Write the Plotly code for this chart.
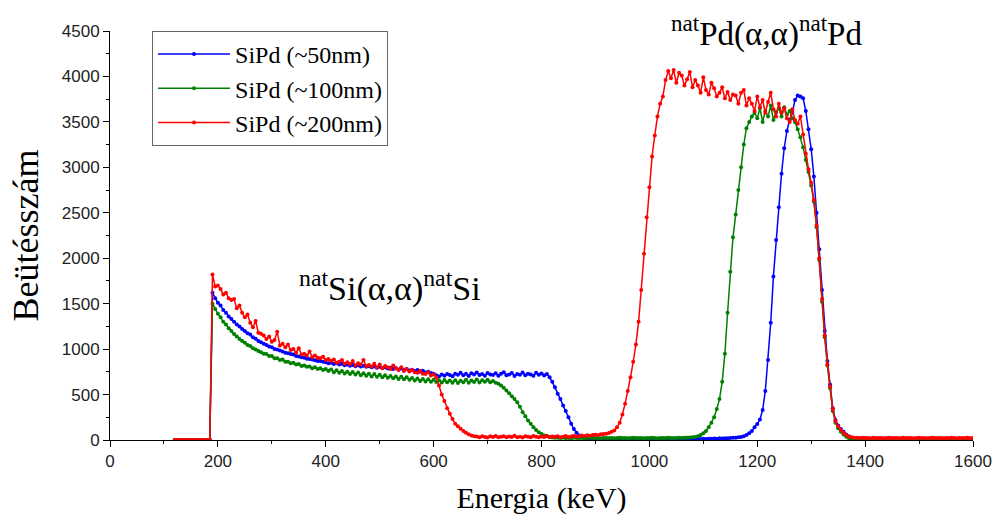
import plotly.graph_objects as go

# Energy channels (keV)
energy = list(range(120, 1605, 5))

# Shared empty channels below the Si edge (120-185 keV)
pre_edge = [0, 0, 0, 0, 0, 0, 0, 0, 0, 0, 0, 0, 0, 0]

# --- SiPd (~50 nm) ---
b_si_front = [1620, 1560, 1510, 1480, 1430, 1400, 1360, 1330, 1300, 1270,
              1250, 1220, 1200, 1175, 1160, 1130, 1115, 1090, 1075, 1060,
              1045, 1030, 1020, 1000, 995, 985, 975, 960, 955, 945,
              940, 925, 920, 910, 905, 895, 890, 885, 878, 870,
              868, 860, 855]
b_si_mid = [845, 850, 835, 845, 830, 838, 822, 832, 818, 826,
            812, 822, 808, 818, 805, 812, 800, 810, 796, 806,
            792, 800, 786, 796, 782, 790, 776, 786, 770, 780,
            766, 774, 760, 770, 752, 762, 744, 752, 738, 730]
b_si_back = [712, 700, 722, 708, 725, 715, 702, 730, 718, 740,
             712, 728, 705, 735, 720, 742, 714, 726, 708, 738,
             722, 716, 734, 706, 728, 745, 712, 722, 738, 704,
             726, 718, 744, 712, 730, 722, 706, 740, 718, 732,
             710, 725]
b_si_edge = [690, 640, 580, 510, 450, 380, 320, 250, 180, 120, 80, 50, 30, 20]
b_gap = [18, 14, 16, 12, 15, 13, 11, 14, 12, 10,
         13, 11, 12, 9, 12, 10, 13, 11, 9, 12,
         10, 12, 9, 11, 13, 10, 12, 9, 11, 10,
         12, 9, 11, 13, 10, 12, 11, 9, 12, 10,
         13, 11, 12, 14, 12, 15, 13, 16, 14, 18,
         17, 20, 19, 22, 24, 26, 30, 34]
b_pd = [40, 55, 75, 100, 140, 175, 225, 330, 540, 880,
        1290, 1800, 2200, 2560, 2930, 3210, 3400, 3520, 3600, 3740,
        3790, 3780, 3760, 3620, 3420, 3200, 2900, 2500, 2100, 1650,
        1200, 870, 610, 350, 220, 160, 120, 90, 60, 38,
        26, 20]
b_tail = [18, 16, 15, 17, 14, 15, 13, 15, 14, 16,
          13, 14, 15, 13, 14, 12, 14, 13, 15, 12,
          13, 14, 12, 13, 15, 12, 14, 13, 12, 14,
          13, 12, 14, 13, 12, 13, 14, 12, 13, 12,
          13, 12, 14, 13]

# --- SiPd (~100 nm) ---
g_si_front = [1500, 1440, 1390, 1350, 1300, 1270, 1230, 1200, 1165, 1140,
              1110, 1090, 1070, 1045, 1035, 1010, 995, 980, 965, 950,
              945, 925, 925, 900, 900, 880, 885, 860, 860, 845,
              850, 830, 835, 815, 820, 805, 810, 790, 800, 780,
              790, 770, 780]
g_si_back = [758, 775, 745, 768, 740, 760, 732, 752, 725, 748,
             720, 742, 712, 735, 708, 728, 700, 725, 695, 718,
             690, 712, 685, 705, 680, 700, 672, 695, 668, 690,
             662, 682, 655, 678, 650, 672, 645, 668, 640, 662,
             638, 658, 632, 660, 635, 655, 630, 658, 628, 652,
             635, 662, 630, 655, 638, 665, 632, 658, 640, 662,
             635, 650, 630]
g_si_edge = [620, 600, 575, 545, 515, 480, 450, 415, 365, 305,
             260, 215, 180, 140, 110, 85, 65, 50, 40, 32]
g_gap = [28, 25, 24, 22, 25, 21, 23, 20, 24, 22,
         21, 23, 20, 22, 24, 21, 23, 22, 20, 24,
         21, 22, 23, 20, 22, 24, 21, 23, 20, 22,
         24, 21, 22, 23, 20, 22, 21, 24, 22, 20,
         23, 21, 22, 24, 21, 23, 22, 25, 23, 26,
         25, 28, 30, 33]
g_pd = [40, 55, 75, 100, 140, 190, 250, 340, 450, 640,
        950, 1400, 1850, 2230, 2480, 2750, 3000, 3250, 3430, 3500,
        3560, 3600, 3540, 3650, 3500, 3620, 3560, 3680, 3520, 3610,
        3650, 3560, 3660, 3580, 3620, 3540, 3500, 3420, 3330, 3220,
        3080, 2950, 2800, 2620, 2340, 1980, 1520, 1130, 820, 570,
        320, 190, 130, 90, 60, 35, 20, 14, 12]
g_tail = [11, 10, 12, 10, 9, 11, 10, 12, 9, 10,
          11, 9, 10, 12, 10, 9, 11, 10, 9, 11,
          10, 12, 9, 10, 11, 10, 9, 11, 10, 12,
          9, 10, 11, 10, 9, 12, 10, 11, 9, 10,
          11, 10, 9, 10]

# --- SiPd (~200 nm) ---
r_si_front = [1820, 1690, 1700, 1660, 1600, 1620, 1560, 1540, 1550, 1450,
              1480, 1400, 1350, 1380, 1290, 1240, 1310, 1180, 1170, 1150,
              1110, 1140, 1080, 1100, 1190, 1040, 1060, 1020, 1050, 990,
              1000, 960, 1010, 940, 950, 930, 975, 910, 930, 905,
              900, 915, 880]
r_si_back = [890, 870, 885, 850, 860, 880, 840, 855, 835, 870,
             820, 845, 830, 880, 815, 825, 810, 840, 800, 830,
             790, 815, 800, 780, 820, 790, 770, 800, 760, 780,
             755, 770, 745, 740, 760, 730, 725, 745, 710, 720]
r_si_edge = [690, 600, 500, 430, 350, 290, 230, 180, 150, 125, 100, 80, 62, 50, 42]
r_gap = [38, 30, 42, 34, 28, 40, 33, 45, 30, 36,
         42, 29, 38, 34, 46, 31, 37, 28, 41, 35,
         30, 44, 36, 29, 39, 33, 47, 31, 38, 35,
         42, 30, 37, 45, 33, 39, 48, 36, 42, 50,
         44, 52, 48, 55, 58, 52, 62, 66]
r_pd_rise = [70, 78, 90, 105, 140, 190, 280, 400, 540, 690,
             860, 1050, 1300, 1650, 2050, 2450, 2780, 3120, 3350, 3560,
             3700, 3780, 3960]
r_pd_top = [4060, 3980, 4070, 3930, 4040, 4010, 3900, 3970, 4050, 3880,
            3960, 3900, 3820, 3990, 3850, 3800, 3930, 3870, 3780, 3820,
            3880, 3760, 3830, 3740, 3800, 3790, 3700, 3820, 3850, 3680,
            3760, 3700, 3620, 3780, 3660, 3740, 3600, 3720, 3820, 3640,
            3560, 3700, 3600, 3650, 3540, 3500, 3640, 3520, 3480, 3560,
            3360]
r_pd_fall = [3150, 2980, 2830, 2640, 2360, 2000, 1550, 1150, 830, 590,
             340, 210, 150, 110, 80, 55, 38, 30, 26]
r_tail = [24, 22, 25, 21, 23, 20, 24, 22, 21, 23,
          20, 22, 24, 21, 23, 22, 20, 24, 21, 22,
          23, 20, 22, 24, 21, 23, 20, 22, 24, 21,
          22, 23, 20, 22, 21, 24, 22, 20, 23, 21,
          22, 24, 21, 22]

counts_50 = pre_edge + b_si_front + b_si_mid + b_si_back + b_si_edge + b_gap + b_pd + b_tail
counts_100 = pre_edge + g_si_front + g_si_back + g_si_edge + g_gap + g_pd + g_tail
counts_200 = (pre_edge + r_si_front + r_si_back + r_si_edge + r_gap
              + r_pd_rise + r_pd_top + r_pd_fall + r_tail)

series_names = ["SiPd (~50nm)", "SiPd (~100nm)", "SiPd (~200nm)"]
series_counts = [counts_50, counts_100, counts_200]
series_colors = ["#0000ff", "#008000", "#ff0000"]

x_ticks = [0, 200, 400, 600, 800, 1000, 1200, 1400, 1600]
y_ticks = [0, 500, 1000, 1500, 2000, 2500, 3000, 3500, 4000, 4500]

serif = "Liberation Serif"
sans = "Liberation Sans"

fig = go.Figure()
for name, counts, color in zip(series_names, series_counts, series_colors):
    fig.add_trace(go.Scatter(
        x=energy[:len(counts)], y=counts, name=name, mode="lines+markers",
        line=dict(color=color, width=1.5),
        marker=dict(color=color, size=4, symbol="circle"),
    ))

fig.add_annotation(x=519, y=1690, xref="x", yref="y",
                   text="<sup>nat</sup>Si(\u03b1,\u03b1)<sup>nat</sup>Si",
                   showarrow=False, font=dict(family=serif, size=34, color="black"))
fig.add_annotation(x=1218, y=4490, xref="x", yref="y",
                   text="<sup>nat</sup>Pd(\u03b1,\u03b1)<sup>nat</sup>Pd",
                   showarrow=False, font=dict(family=serif, size=33, color="black"))

axis_common = dict(
    showgrid=False, zeroline=False, showline=True, linecolor="black", linewidth=1,
    ticks="outside", ticklen=6, tickwidth=1, tickcolor="black",
    tickfont=dict(family=sans, size=17, color="#222"),
    mirror=False, automargin=False,
)

fig.update_layout(
    width=994, height=518,
    margin=dict(l=110, r=21, t=31, b=78),
    paper_bgcolor="white", plot_bgcolor="white",
    showlegend=True,
    legend=dict(x=0.0487, y=1.0, xanchor="left", yanchor="top",
                bgcolor="white", bordercolor="#666", borderwidth=1,
                font=dict(family=serif, size=24, color="black"),
                itemwidth=72, tracegroupgap=0),
    xaxis=dict(axis_common, range=[0, 1600], tickvals=x_ticks,
               minor=dict(dtick=100, tick0=0, ticks="outside", ticklen=3, tickcolor="black"),
               title=dict(text="Energia (keV)", font=dict(family=serif, size=30, color="black"),
                          standoff=16)),
    yaxis=dict(axis_common, range=[0, 4500], tickvals=y_ticks,
               minor=dict(dtick=250, tick0=0, ticks="outside", ticklen=3, tickcolor="black"),
               title=dict(text="Beütésszám", font=dict(family=serif, size=36, color="black"),
                          standoff=12)),
)

fig.write_html("out.html")
